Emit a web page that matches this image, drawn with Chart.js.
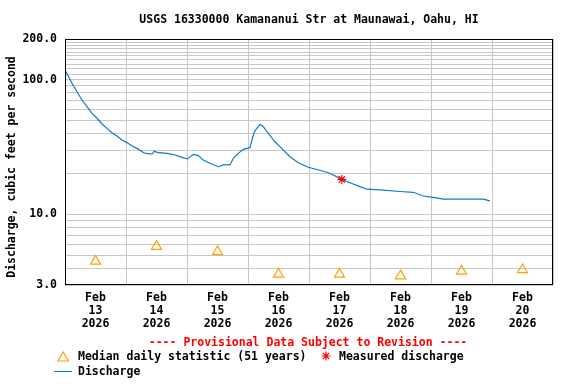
<!DOCTYPE html>
<html>
<head>
<meta charset="utf-8">
<script src="https://cdn.jsdelivr.net/npm/chart.js@4.4.1/dist/chart.umd.min.js"></script>
<style>
  body { margin: 0; background: #fff; }
  #wrap { width: 576px; height: 384px; }
</style>
</head>
<body>
<div id="wrap"><canvas id="flow-chart" width="576" height="384"></canvas></div>
<script>
// hours since Feb 13 2026 00:00
const dischargeHours = [0, 2.75, 4.72, 6.69, 8.66, 10.62, 12.59, 14.56, 16.52, 18.49, 20.46, 22.43,
  24.39, 26.36, 28.33, 30.96, 32.93, 34.5, 35, 36.87, 40.13, 43.4, 46.03, 48.2, 50.48, 52.45,
  54.41, 57.05, 60.31, 62.28, 64.92, 66.22, 68.18, 70.15, 72.79, 73.85, 74.75, 76.72, 78.02,
  79.98, 82.62, 85.26, 88.52, 91.79, 95.72, 101.0, 104.26, 108.86, 112.13, 116.07, 118.7,
  123.93, 131.8, 137.0, 141.0, 144.9, 148.8, 155.4, 159.3, 164.6, 167.2];
const dischargeValues = [118, 93.9, 81.3, 70.6, 63.0, 56.2, 51.7, 46.9, 43.5, 40.4, 38.2, 35.7,
  34.1, 32.2, 30.9, 28.7, 28.1, 28.2, 29.4, 28.7, 28.4, 27.6, 26.5, 25.8, 27.9, 27.3,
  25.3, 24.0, 22.6, 23.3, 23.3, 26.1, 28.4, 30.4, 31.3, 37.7, 41.8, 46.6, 44.8,
  40.0, 34.6, 30.9, 26.8, 24.2, 22.4, 21.1, 20.2, 18.2, 17.2, 16.1, 15.4,
  15.2, 14.8, 14.6, 13.7, 13.4, 13.0, 13.0, 13.0, 13.0, 12.6];

const medianHours = [12, 36, 60, 84, 108, 132, 156, 180];
const medianValues = [4.5, 5.8, 5.3, 3.6, 3.6, 3.5, 3.8, 3.9];

const measuredHours = [108.9];
const measuredValues = [18.2];

const dayLabels = ["13", "14", "15", "16", "17", "18", "19", "20"];
const yGridValues = [3, 4, 5, 6, 7, 8, 9, 10, 20, 30, 40, 50, 60, 70, 80, 90,
  100, 110, 120, 130, 140, 150, 160, 170, 180, 190, 200];
const yLabelValues = [3, 10, 100, 200];

const FONT = "'DejaVu Sans Mono', monospace";
const BLUE = "#0a7ad0";
const ORANGE = "#ffa000";
const RED = "#ff0000";

const toPoints = (xs, ys) => xs.map((x, i) => ({ x: x, y: ys[i] }));

const extras = {
  id: "extras",
  afterDraw(chart) {
    const ctx = chart.ctx;
    const a = chart.chartArea;
    ctx.save();
    ctx.strokeStyle = "#000";
    ctx.lineWidth = 1;
    ctx.strokeRect(Math.round(a.left) + 0.5, Math.round(a.top) + 0.5,
      Math.round(a.right - a.left) - 1, Math.round(a.bottom - a.top) - 1);

    ctx.font = "bold 11.5px " + FONT;
    ctx.fillStyle = "#000";
    ctx.textBaseline = "middle";
    ctx.textAlign = "center";
    ctx.fillText("USGS 16330000 Kamananui Str at Maunawai, Oahu, HI", 309, 20);

    ctx.save();
    ctx.translate(12, 167);
    ctx.rotate(-Math.PI / 2);
    ctx.fillText("Discharge, cubic feet per second", 0, 0);
    ctx.restore();

    ctx.fillStyle = RED;
    ctx.fillText("---- Provisional Data Subject to Revision ----", 308, 343);

    // legend
    ctx.textAlign = "left";
    ctx.fillStyle = "#000";
    ctx.fillText("Median daily statistic (51 years)", 78, 357);
    ctx.fillText("Measured discharge", 339, 357);
    ctx.fillText("Discharge", 78, 372);

    ctx.strokeStyle = ORANGE;
    ctx.lineWidth = 1.2;
    ctx.beginPath();
    ctx.moveTo(58, 361);
    ctx.lineTo(68.5, 361);
    ctx.lineTo(63.25, 352);
    ctx.closePath();
    ctx.stroke();

    ctx.strokeStyle = RED;
    ctx.lineWidth = 1.2;
    ctx.beginPath();
    for (let k = 0; k < 4; k++) {
      const ang = k * Math.PI / 4;
      ctx.moveTo(326 - Math.cos(ang) * 4.5, 356 - Math.sin(ang) * 4.5);
      ctx.lineTo(326 + Math.cos(ang) * 4.5, 356 + Math.sin(ang) * 4.5);
    }
    ctx.stroke();

    ctx.strokeStyle = BLUE;
    ctx.lineWidth = 1;
    ctx.beginPath();
    ctx.moveTo(54, 371.5);
    ctx.lineTo(72, 371.5);
    ctx.stroke();
    ctx.restore();
  }
};

new Chart(document.getElementById("flow-chart"), {
  type: "line",
  data: {
    datasets: [
      {
        label: "Discharge",
        data: toPoints(dischargeHours, dischargeValues),
        borderColor: BLUE,
        borderWidth: 1.2,
        pointRadius: 0,
        tension: 0,
        order: 3
      },
      {
        label: "Median daily statistic (51 years)",
        type: "scatter",
        data: toPoints(medianHours, medianValues),
        pointStyle: "triangle",
        pointRadius: 5.8,
        borderColor: ORANGE,
        backgroundColor: "rgba(0,0,0,0)",
        borderWidth: 1.2,
        order: 2
      },
      {
        label: "Measured discharge",
        type: "scatter",
        data: toPoints(measuredHours, measuredValues),
        pointStyle: "star",
        pointRadius: 4.5,
        borderColor: RED,
        backgroundColor: RED,
        borderWidth: 1.2,
        order: 1
      }
    ]
  },
  options: {
    responsive: false,
    animation: false,
    devicePixelRatio: 1,
    layout: { padding: { top: 39, right: 23, left: 0, bottom: 0 } },
    plugins: {
      legend: { display: false },
      title: { display: false },
      tooltip: { enabled: false }
    },
    scales: {
      x: {
        type: "linear",
        min: 0,
        max: 192,
        afterBuildTicks: (scale) => {
          const t = [];
          for (let v = 0; v <= 192; v += 12) t.push({ value: v });
          scale.ticks = t;
        },
        afterFit: (scale) => { scale.height = 99; },
        grid: {
          color: (c) => (c.tick && c.tick.value % 24 === 0 ? "#c8c8c8" : "rgba(0,0,0,0)"),
          lineWidth: 1,
          drawTicks: false
        },
        border: { display: false },
        ticks: {
          autoSkip: false,
          maxRotation: 0,
          padding: 7,
          color: "#000",
          font: { family: FONT, size: 11.5, weight: "bold", lineHeight: 1.13 },
          callback: (v) => {
            if (v % 24 !== 12) return "";
            return ["Feb", dayLabels[Math.floor(v / 24)], "2026"];
          }
        }
      },
      y: {
        type: "logarithmic",
        min: 3,
        max: 200,
        afterBuildTicks: (scale) => {
          scale.ticks = yGridValues.map((v) => ({ value: v }));
        },
        afterFit: (scale) => { scale.width = 65; },
        grid: { color: "#c8c8c8", lineWidth: 1, drawTicks: false },
        border: { display: false },
        ticks: {
          autoSkip: false,
          padding: 8,
          color: "#000",
          font: { family: FONT, size: 11.5, weight: "bold" },
          callback: (v) => (yLabelValues.includes(v) ? v.toFixed(1) : "")
        }
      }
    }
  },
  plugins: [extras]
});
</script>
</body>
</html>
